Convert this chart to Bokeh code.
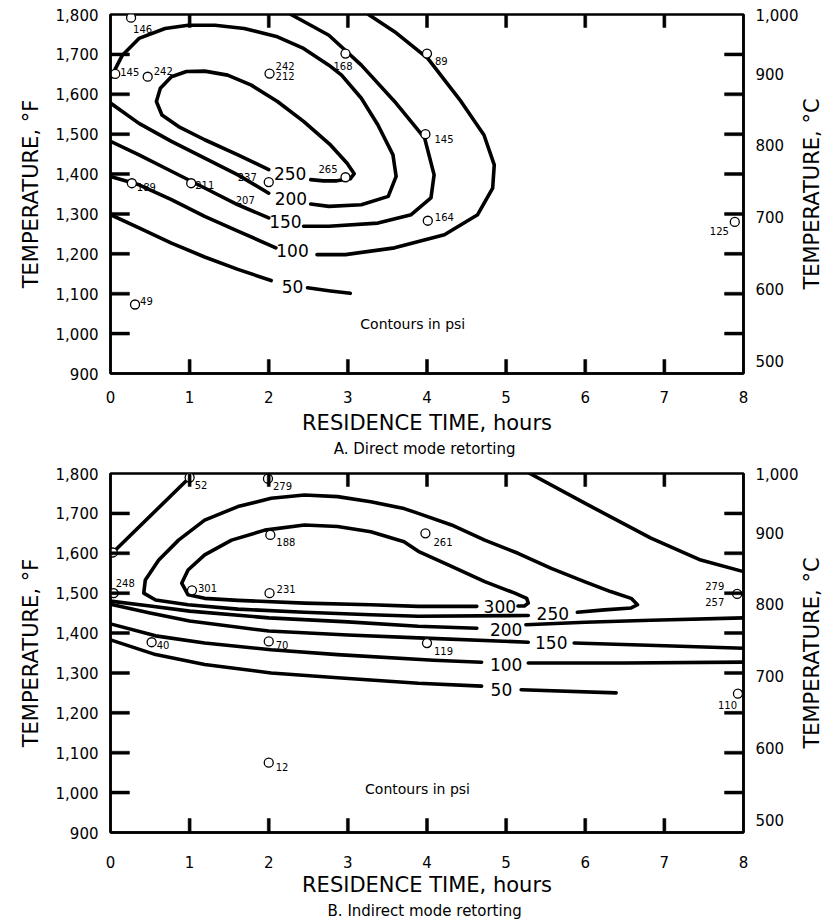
import math
from bokeh.plotting import figure
from bokeh.models import (Range1d, LinearAxis, FixedTicker, NumeralTickFormatter,
                          Title, ColumnDataSource)
from bokeh.layouts import column, row
from bokeh.embed import file_html
from bokeh.resources import INLINE
from bokeh.core.properties import value

NaN = float("nan")
FONT = "DejaVu Sans"

# ---------------- axes ----------------
hour_ticks = [0, 1, 2, 3, 4, 5, 6, 7, 8]
temp_f_ticks = [900, 1000, 1100, 1200, 1300, 1400, 1500, 1600, 1700, 1800]
temp_c_ticks = [500, 600, 700, 800, 900, 982]
temp_c_top_label = {982: "1,000"}

# ---------------- A. Direct mode retorting ----------------
# contour lines (hours, deg F); NaN = gap left for the contour label
a250_h = [2.0, 1.61, 1.19, 0.86, 0.65, 0.58, 0.63, 0.77, 0.96, 1.19, 1.48, 1.78, 2.11, 2.44, 2.78, 2.99, 3.08, 3.03, 2.86, 2.69, 2.53]
a250_t = [1411, 1448, 1486, 1519, 1548, 1582, 1615, 1644, 1657, 1658, 1648, 1623, 1582, 1532, 1473, 1427, 1401, 1388, 1383, 1383, 1386]
a200_h = [0.0, 0.36, 0.77, 1.19, 1.61, 2.0, NaN, 2.53, 2.76, 3.17, 3.51, 3.61, 3.57, 3.38, 3.17, 2.92, 2.76, 2.44, 2.11, 1.69, 1.32, 0.98, 0.69, 0.36, 0.15, 0.0]
a200_t = [1578, 1527, 1482, 1440, 1398, 1352, NaN, 1325, 1319, 1323, 1344, 1394, 1448, 1523, 1590, 1648, 1673, 1715, 1744, 1765, 1773, 1773, 1765, 1740, 1698, 1640]
a150_h = [2.28, 2.53, 2.76, 3.17, 3.59, 3.97, 4.09, 4.05, 3.80, 3.38, 2.76, 2.44, NaN, 2.0, 1.61, 1.19, 0.77, 0.36, 0.0]
a150_t = [1800, 1773, 1748, 1673, 1582, 1490, 1398, 1340, 1298, 1277, 1269, 1269, NaN, 1290, 1323, 1365, 1407, 1448, 1482]
a100_h = [3.26, 3.59, 4.01, 4.43, 4.72, 4.85, 4.83, 4.64, 4.22, 3.59, 2.97, 2.61, NaN, 2.09, 1.61, 1.19, 0.77, 0.36, 0.0]
a100_t = [1800, 1757, 1690, 1582, 1498, 1423, 1365, 1298, 1248, 1215, 1198, 1198, NaN, 1215, 1257, 1294, 1336, 1373, 1394]
a50_h = [0.0, 0.36, 0.77, 1.19, 1.61, 2.03, NaN, 2.49, 2.78, 3.03]
a50_t = [1298, 1265, 1227, 1192, 1161, 1133, NaN, 1115, 1107, 1101]

a_level_text = ["250", "200", "150", "100", "50"]
a_level_h = [2.27, 2.28, 2.21, 2.30, 2.30]
a_level_t = [1401, 1338, 1282, 1208, 1119]

# measured points (hours, deg F) and their pressure labels (psi)
a_pt_h = [0.26, 0.06, 0.47, 2.01, 2.97, 4.0, 3.98, 4.01, 2.97, 2.0, 1.02, 0.27, 0.31, 7.89]
a_pt_t = [1792, 1651, 1644, 1652, 1702, 1702, 1500, 1283, 1392, 1380, 1377, 1377, 1073, 1280]
a_lab_text = ["146", "145", "242", "242", "212", "168", "89", "145", "164", "265", "237", "207", "211", "189", "49", "125"]
a_lab_h = [0.26, 0.06, 0.47, 2.01, 2.01, 2.97, 4.0, 3.98, 4.01, 2.97, 2.0, 2.0, 1.02, 0.27, 0.31, 7.89]
a_lab_t = [1792, 1651, 1644, 1652, 1652, 1702, 1702, 1500, 1283, 1392, 1380, 1380, 1377, 1377, 1073, 1280]
a_lab_dx = [2, 5, 6, 6, 6, -12, 8, 9, 7, -27, -31, -33, 4, 5, 5, -25]
a_lab_dy = [11, -2, -6, -8, 2, 12, 7, 5, -4, -8, -5, 18, 2, 4, -3, 9]

# ---------------- B. Indirect mode retorting ----------------
b300_h = [4.63, 3.89, 3.29, 2.45, 1.61, 1.19, 0.98, 0.90, 0.98, 1.19, 1.53, 1.95, 2.45, 2.87, 3.29, 3.71, 3.89, 4.31, 4.73, 5.11, 5.26, 5.28, 5.23, 5.15]
b300_t = [1467, 1467, 1471, 1475, 1482, 1487, 1496, 1525, 1558, 1596, 1633, 1658, 1671, 1667, 1654, 1629, 1605, 1567, 1529, 1500, 1487, 1475, 1468, 1468]
b250_h = [5.28, 3.89, 3.29, 2.45, 1.61, 0.98, 0.57, 0.42, 0.44, 0.61, 0.86, 1.19, 1.61, 2.03, 2.45, 2.87, 3.29, 3.71, 3.89, 4.31, 4.73, 5.15, 5.57, 5.99, 6.32, 6.58, 6.66, 6.58, 6.24, 5.90]
b250_t = [1444, 1442, 1446, 1452, 1460, 1471, 1483, 1500, 1533, 1583, 1633, 1683, 1717, 1738, 1746, 1742, 1729, 1712, 1700, 1671, 1633, 1600, 1562, 1529, 1504, 1487, 1471, 1463, 1458, 1452]
b200_h = [0.0, 0.5, 1.0, 2.0, 3.0, 3.89, 4.63, NaN, 5.25, 6.0, 6.83, 8.0]
b200_t = [1480, 1468, 1455, 1438, 1428, 1417, 1412, NaN, 1421, 1427, 1432, 1438]
b150_h = [0.0, 0.5, 1.0, 2.0, 3.0, 3.89, 5.28, NaN, 5.86, 7.0, 8.0]
b150_t = [1472, 1450, 1430, 1405, 1395, 1388, 1377, NaN, 1375, 1368, 1362]
b100_h = [0.0, 0.57, 1.19, 2.03, 2.87, 4.08, 4.69, NaN, 5.28, 6.5, 8.0]
b100_t = [1423, 1393, 1375, 1358, 1346, 1332, 1327, NaN, 1325, 1325, 1327]
b50_h = [0.0, 0.57, 1.19, 2.03, 2.87, 3.89, 4.69, NaN, 5.19, 6.39]
b50_t = [1383, 1346, 1321, 1300, 1288, 1274, 1267, NaN, 1258, 1250]
b_outer_h = [5.3, 6.0, 6.83, 7.46, 8.0]
b_outer_t = [1800, 1725, 1638, 1583, 1554]
b_edge_h = [0.03, 1.0]
b_edge_t = [1602, 1790]

b_level_text = ["300", "250", "200", "150", "100", "50"]
b_level_h = [4.92, 5.59, 5.0, 5.57, 5.0, 4.94]
b_level_t = [1467, 1450, 1408, 1377, 1321, 1258]

b_pt_h = [1.0, 1.99, 2.02, 3.98, 1.03, 2.01, 0.04, 0.03, 0.52, 2.0, 4.0, 2.0, 7.92, 7.93]
b_pt_t = [1790, 1787, 1646, 1650, 1507, 1500, 1500, 1602, 1377, 1379, 1375, 1075, 1498, 1248]
b_lab_text = ["52", "279", "188", "261", "301", "231", "248", "40", "70", "119", "12", "279", "257", "110"]
b_lab_h = [1.0, 1.99, 2.02, 3.98, 1.03, 2.01, 0.04, 0.52, 2.0, 4.0, 2.0, 7.92, 7.92, 7.93]
b_lab_t = [1790, 1787, 1646, 1650, 1507, 1500, 1500, 1377, 1379, 1375, 1075, 1498, 1498, 1248]
b_lab_dx = [5, 5, 6, 8, 6, 7, 2, 5, 7, 7, 7, -32, -32, -20]
b_lab_dy = [8, 7, 7, 9, -2, -4, -10, 3, 4, 8, 4, -8, 8, 11]

note_text = "Contours in psi"

# ---------------- layout (pixels) ----------------
BORDER_L = 110
FRAME_W = 635
BORDER_R = 56
FIG_W = BORDER_L + FRAME_W + BORDER_R
SIDE_W = 22          # strip that carries the right-hand (deg C) axis title
FRAME_H = 359
TICK_SIDE = 19       # inward tick length on left / right edges
TICK_TOP = 13
TICK_BOT = 14
TICK_THICK = 3


def style_axis(ax, standoff):
    ax.axis_line_color = "black"
    ax.axis_line_width = 2.5
    ax.major_tick_line_color = None
    ax.minor_tick_line_color = None
    ax.major_tick_in = 0
    ax.major_tick_out = 0
    ax.major_label_text_font = FONT
    ax.major_label_text_font_size = "15px"
    ax.major_label_text_color = "black"
    ax.major_label_standoff = standoff
    ax.axis_label_text_font = FONT
    ax.axis_label_text_font_size = "21px"
    ax.axis_label_text_font_style = "normal"
    ax.axis_label_text_color = "black"


def make_panel(lines, lev_text, lev_h, lev_t, pt_h, pt_t, lab_text, lab_h, lab_t,
               lab_dx, lab_dy, note_h, note_t, subtitle, top, bottom, x_standoff, xl_standoff):
    height = top + FRAME_H + bottom
    p = figure(width=FIG_W, height=height, x_range=Range1d(0, 8), y_range=Range1d(900, 1800),
               output_backend="svg", toolbar_location=None,
               min_border_left=BORDER_L, min_border_right=BORDER_R,
               min_border_top=top, min_border_bottom=bottom)
    p.grid.visible = False
    p.background_fill_color = "white"
    p.border_fill_color = "white"
    p.outline_line_color = "black"
    p.outline_line_width = 2.5
    p.extra_y_ranges = {"c": Range1d(start=(900 - 32) / 1.8, end=(1800 - 32) / 1.8)}

    xa = p.xaxis[0]
    xa.ticker = FixedTicker(ticks=hour_ticks)
    xa.axis_label = "RESIDENCE TIME, hours"
    style_axis(xa, x_standoff)
    xa.axis_label_standoff = xl_standoff

    ya = p.yaxis[0]
    ya.ticker = FixedTicker(ticks=temp_f_ticks)
    ya.formatter = NumeralTickFormatter(format="0,0")
    ya.axis_label = "TEMPERATURE, °F"
    style_axis(ya, 12)
    ya.axis_label_standoff = 10

    ra = LinearAxis(y_range_name="c", ticker=FixedTicker(ticks=temp_c_ticks),
                    formatter=NumeralTickFormatter(format="0,0"),
                    major_label_overrides=temp_c_top_label)
    style_axis(ra, 12)
    p.add_layout(ra, "right")

    for hs, ts in lines:
        p.line(hs, ts, line_color="black", line_width=3.6, line_join="round", line_cap="round")

    p.text(x=lev_h, y=lev_t, text=lev_text, text_font=value(FONT), text_font_size="17px",
           text_align="center", text_baseline="middle", text_color="black")

    p.scatter(x=pt_h, y=pt_t, marker="circle", size=9, fill_color="white",
              line_color="black", line_width=1.3)

    src = ColumnDataSource(dict(x=lab_h, y=lab_t, text=lab_text, dx=lab_dx, dy=lab_dy))
    p.text(x="x", y="y", text="text", x_offset="dx", y_offset="dy", source=src,
           text_font=value(FONT), text_font_size="10px", text_align="left",
           text_baseline="middle", text_color="black")

    p.text(x=[note_h], y=[note_t], text=[note_text], text_font=value(FONT),
           text_font_size="14px", text_align="center", text_baseline="middle",
           text_color="black")

    # inward tick marks as thin filled bars, drawn last so they cross the
    # circles sitting on an edge (pixel sizes converted to data units)
    px_h = FRAME_W / 8.0
    px_f = FRAME_H / 900.0
    hw_h = TICK_THICK / 2.0 / px_h
    hw_f = TICK_THICK / 2.0 / px_f
    inner_f = temp_f_ticks[1:-1]
    inner_h = hour_ticks[1:-1]
    bar = dict(fill_color="black", line_color="black", line_width=0.5)
    p.quad(left=[0.0] * len(inner_f), right=[TICK_SIDE / px_h] * len(inner_f),
           bottom=[v - hw_f for v in inner_f], top=[v + hw_f for v in inner_f], **bar)
    p.quad(left=[8.0 - TICK_SIDE / px_h] * len(inner_f), right=[8.0] * len(inner_f),
           bottom=[v - hw_f for v in inner_f], top=[v + hw_f for v in inner_f], **bar)
    p.quad(left=[v - hw_h for v in inner_h], right=[v + hw_h for v in inner_h],
           bottom=[1800.0 - TICK_TOP / px_f] * len(inner_h), top=[1800.0] * len(inner_h), **bar)
    p.quad(left=[v - hw_h for v in inner_h], right=[v + hw_h for v in inner_h],
           bottom=[900.0] * len(inner_h), top=[900.0 + TICK_BOT / px_f] * len(inner_h), **bar)

    t = Title(text=subtitle, align="center", text_font=FONT, text_font_size="15px",
              text_font_style="normal", text_color="black", standoff=0)
    p.add_layout(t, "below")

    # narrow strip to the right: carries the deg C axis title, reading upward
    s = figure(width=SIDE_W, height=height, x_range=Range1d(0, 1), y_range=Range1d(900, 1800),
               output_backend="svg", toolbar_location=None, x_axis_type=None, y_axis_type=None,
               min_border_left=SIDE_W - 2, min_border_right=0,
               min_border_top=top, min_border_bottom=bottom)
    s.grid.visible = False
    s.outline_line_color = None
    s.background_fill_color = "white"
    s.border_fill_color = "white"
    s.add_layout(Title(text="TEMPERATURE, °C", align="center", text_font=FONT,
                       text_font_size="21px", text_font_style="normal",
                       text_color="black", standoff=0, offset=0), "left")
    return row(p, s, spacing=0)


pa = make_panel([(a250_h, a250_t), (a200_h, a200_t), (a150_h, a150_t),
                 (a100_h, a100_t), (a50_h, a50_t)],
                a_level_text, a_level_h, a_level_t, a_pt_h, a_pt_t,
                a_lab_text, a_lab_h, a_lab_t, a_lab_dx, a_lab_dy,
                3.82, 1023, "A.  Direct mode retorting", 14, 85, 17, 5)

pb = make_panel([(b300_h, b300_t), (b250_h, b250_t), (b200_h, b200_t), (b150_h, b150_t),
                 (b100_h, b100_t), (b50_h, b50_t), (b_outer_h, b_outer_t), (b_edge_h, b_edge_t)],
                b_level_text, b_level_h, b_level_t, b_pt_h, b_pt_t,
                b_lab_text, b_lab_h, b_lab_t, b_lab_dx, b_lab_dy,
                3.88, 1010, "B.  Indirect mode retorting", 15, 89, 23, 2)

layout = column(pa, pb, spacing=0)
open("out.html", "w").write(file_html(layout, INLINE))
